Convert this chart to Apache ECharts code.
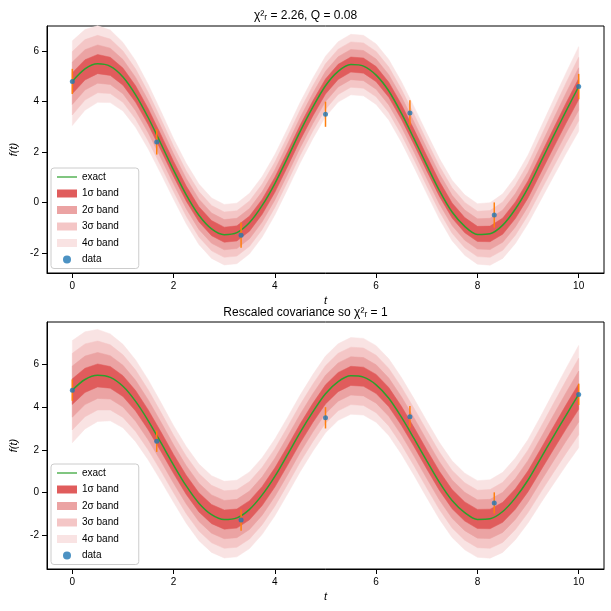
<!DOCTYPE html>
<html><head><meta charset="utf-8">
<script src="https://cdn.jsdelivr.net/npm/echarts@6/dist/echarts.min.js"></script>
<style>html,body{margin:0;padding:0;background:#fff}#c{width:611px;height:611px}</style>
</head><body><div id="c"></div>
<script>
const tGrid=[0,0.25,0.5,0.75,1,1.25,1.5,1.75,2,2.25,2.5,2.75,3,3.25,3.5,3.75,4,4.25,4.5,4.75,5,5.25,5.5,5.75,6,6.25,6.5,6.75,7,7.25,7.5,7.75,8,8.25,8.5,8.75,9,9.25,9.5,9.75,10];
const fitVals=[4.73,5.26,5.49,5.4,4.99,4.3,3.4,2.38,1.33,0.35,-0.47,-1.02,-1.28,-1.23,-0.84,-0.17,0.7,1.72,2.77,3.73,4.6,5.18,5.47,5.43,5.09,4.47,3.59,2.59,1.55,0.54,-0.32,-0.9,-1.25,-1.25,-0.94,-0.31,0.52,1.53,2.54,3.54,4.5];
const exactVals=[4.8,5.3,5.5,5.4,4.98,4.27,3.36,2.33,1.28,0.3,-0.51,-1.05,-1.28,-1.2,-0.8,-0.12,0.75,1.77,2.82,3.78,4.63,5.2,5.47,5.41,5.05,4.42,3.53,2.52,1.48,0.47,-0.38,-0.95,-1.27,-1.24,-0.9,-0.26,0.58,1.6,2.62,3.62,4.6];
const sigmaTop=[0.42,0.4,0.38,0.36,0.34,0.33,0.32,0.31,0.3,0.3,0.3,0.3,0.3,0.3,0.3,0.3,0.3,0.3,0.3,0.3,0.3,0.3,0.3,0.3,0.3,0.3,0.3,0.3,0.3,0.3,0.3,0.3,0.3,0.31,0.32,0.33,0.34,0.36,0.38,0.4,0.42];
const sigmaBottom=[0.6,0.57,0.54,0.51,0.49,0.48,0.47,0.46,0.45,0.45,0.45,0.45,0.45,0.45,0.45,0.45,0.45,0.45,0.45,0.45,0.45,0.45,0.45,0.45,0.45,0.45,0.45,0.45,0.45,0.45,0.45,0.45,0.45,0.46,0.47,0.48,0.49,0.51,0.54,0.57,0.6];
const dataT=[0,1.667,3.333,5,6.667,8.333,10];
const dataY=[4.8,2.4,-1.3,3.5,3.55,-0.5,4.6];
const dataErr=[0.5,0.5,0.5,0.5,0.5,0.5,0.5];
const yTicks=[-2,0,2,4,6];
const bandColors=['#e05c5c','#eba3a3','#f4c6c6','#f9e3e3'];
const bandNames=['1σ band','2σ band','3σ band','4σ band'];

const chart=echarts.init(document.getElementById('c'));
const grids=[{left:47,right:7,top:26,height:247,show:true,borderColor:'#000',borderWidth:1},
             {left:47,right:7,top:322,height:247,show:true,borderColor:'#000',borderWidth:1}];
const yr=[[-2.8,7],[-3.6,8]];
const series=[];const xAxis=[];const yAxis=[];
[sigmaTop,sigmaBottom].forEach((sig,g)=>{
  xAxis.push({gridIndex:g,type:'value',min:-0.5,max:10.5,name:'t',nameLocation:'middle',nameGap:22,
    nameTextStyle:{fontStyle:'italic',fontSize:11,color:'#000'},
    axisLabel:{fontSize:10,color:'#000',customValues:[0,2,4,6,8,10]},axisTick:{customValues:[0,2,4,6,8,10],lineStyle:{color:'#000'}},
    axisLine:{onZero:false,lineStyle:{color:'#000'}},splitLine:{show:false}});
  yAxis.push({gridIndex:g,type:'value',min:yr[g][0],max:yr[g][1],name:'f(t)',nameLocation:'middle',nameGap:28,
    nameTextStyle:{fontStyle:'italic',fontSize:11,color:'#000'},
    axisLabel:{fontSize:10,color:'#000',customValues:yTicks},axisTick:{show:true,customValues:yTicks,lineStyle:{color:'#000'}},
    axisLine:{show:true,onZero:false,lineStyle:{color:'#000'}},splitLine:{show:false}});
  [3,2,1,0].forEach(k=>{
    const n=k+1;
    series.push({type:'custom',name:bandNames[k],xAxisIndex:g,yAxisIndex:g,itemStyle:{color:bandColors[k]},z:2,
      data:[[0,fitVals[0]]],
      renderItem:(p,api)=>{
        const up=tGrid.map((t,i)=>api.coord([t,fitVals[i]+n*sig[i]]));
        const lo=tGrid.map((t,i)=>api.coord([t,fitVals[i]-n*sig[i]])).reverse();
        return {type:'polygon',shape:{points:up.concat(lo)},style:{fill:bandColors[k],stroke:bandColors[k],lineWidth:0.5}};
      }});
  });
  series.push({type:'line',name:'exact',xAxisIndex:g,yAxisIndex:g,symbol:'none',smooth:0.3,
    lineStyle:{color:'#2ca02c',width:1.5},itemStyle:{color:'#2ca02c'},data:tGrid.map((t,i)=>[t,exactVals[i]]),z:5});
  series.push({type:'custom',xAxisIndex:g,yAxisIndex:g,z:6,data:dataT.map((t,i)=>[t,dataY[i]-dataErr[i],dataY[i]+dataErr[i]]),
    renderItem:(p,api)=>{const a=api.coord([api.value(0),api.value(1)]),b=api.coord([api.value(0),api.value(2)]);
      return {type:'line',shape:{x1:a[0],y1:a[1],x2:b[0],y2:b[1]},style:{stroke:'#ff7f0e',lineWidth:1.5}};}});
  series.push({type:'scatter',name:'data',xAxisIndex:g,yAxisIndex:g,z:7,symbolSize:5,itemStyle:{color:'#1f77b4'},
    data:dataT.map((t,i)=>[t,dataY[i]])});
});
const legendItems=[{name:'exact',icon:'path://M0,5L20,5L20,6.2L0,6.2Z'}].concat(bandNames.map(n=>({name:n,icon:'rect'}))).concat([{name:'data',icon:'circle'}]);
const mkLegend=(top)=>({orient:'vertical',left:51,top:top,itemWidth:20,itemHeight:8,itemGap:6.5,
  textStyle:{fontSize:10,color:'#000'},data:legendItems,backgroundColor:'rgba(255,255,255,0.8)',
  borderColor:'#ccc',borderWidth:1,borderRadius:3,padding:[4,20,4,6],selectedMode:false});
chart.setOption({animation:false,
  title:[{text:'χ²ᵣ = 2.26, Q = 0.08',left:'center',top:5,textStyle:{fontSize:12,fontWeight:'normal',color:'#000'}},
         {text:'Rescaled covariance so χ²ᵣ = 1',left:'center',top:302,textStyle:{fontSize:12,fontWeight:'normal',color:'#000'}}],
  grid:grids,xAxis,yAxis,series,legend:[mkLegend(168),mkLegend(464)]});
</script></body></html>
